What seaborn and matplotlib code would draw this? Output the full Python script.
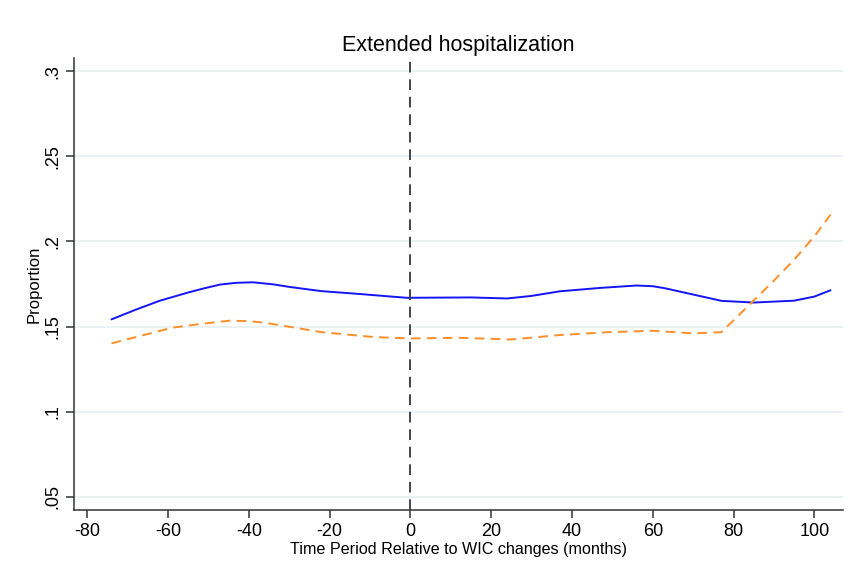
import matplotlib
matplotlib.use("Agg")
import matplotlib.pyplot as plt
import seaborn as sns
import pandas as pd

# Smoothed proportions by month relative to the WIC change
months_a = [-74, -68, -62, -55, -51, -47, -43, -39, -34, -30, -22, -13, -1, 8, 15, 24, 30, 37,
            47, 56, 60, 63, 70, 77, 85, 95, 100, 104]
prop_a = [0.1542, 0.1599, 0.1652, 0.1700, 0.1725, 0.1747, 0.1757, 0.1760, 0.1748, 0.1733,
          0.1708, 0.1692, 0.1669, 0.1670, 0.1671, 0.1665, 0.1680, 0.1707, 0.1727, 0.1741,
          0.1737, 0.1725, 0.1688, 0.1651, 0.1641, 0.1652, 0.1676, 0.1713]

months_b = [-74, -66, -59, -52, -45, -40, -36, -29, -22, -9, 0, 12, 25, 37, 49, 60, 70, 77,
            84, 90, 95, 100, 104]
prop_b = [0.1401, 0.1450, 0.1493, 0.1515, 0.1534, 0.1532, 0.1522, 0.1495, 0.1467, 0.1438,
          0.1430, 0.1434, 0.1424, 0.1450, 0.1467, 0.1475, 0.1460, 0.1467, 0.1630, 0.1770,
          0.1893, 0.2030, 0.2157]

y_ticks = [0.05, 0.10, 0.15, 0.20, 0.25, 0.30]
y_tick_labels = [".05", ".1", ".15", ".2", ".25", ".3"]
x_ticks = [-80, -60, -40, -20, 0, 20, 40, 60, 80, 100]

df_a = pd.DataFrame({"month": months_a, "prop": prop_a})
df_b = pd.DataFrame({"month": months_b, "prop": prop_b})

sns.set_style("white")
plt.rcParams["font.family"] = ["Liberation Sans", "DejaVu Sans"]
plt.rcParams["text.color"] = "black"
plt.rcParams["axes.labelcolor"] = "black"
plt.rcParams["xtick.color"] = "black"
plt.rcParams["ytick.color"] = "black"

fig = plt.figure(figsize=(8.57, 5.82), dpi=100)
ax = fig.add_axes([0.0867, 0.1237, 0.8970, 0.7761])

for yv in y_ticks:
    ax.axhline(yv, color="#e6eff1", lw=1.1, zorder=0)

sns.lineplot(data=df_a, x="month", y="prop", ax=ax, color="#1414f8", lw=1.4, zorder=3)
sns.lineplot(data=df_b, x="month", y="prop", ax=ax, color="#ff8f2a", lw=1.4,
             dashes=False, zorder=3).lines[-1].set_dashes([5, 3.2])

ax.axvline(0, color="#444444", lw=1.4, dashes=(5.5, 3.5), zorder=4)

ax.set_xlim(-83.2, 107.1)
ax.set_ylim(0.0422, 0.3076)
ax.set_xticks(x_ticks)
ax.set_xticklabels([str(v) for v in x_ticks], fontsize=13)
ax.set_yticks(y_ticks)
ax.set_yticklabels(y_tick_labels, fontsize=13, rotation=90, va="center")

ax.tick_params(axis="both", direction="out", length=6, width=1.1, color="#333333",
               left=True, bottom=True, pad=3)
for side in ["top", "right"]:
    ax.spines[side].set_visible(False)
for side in ["left", "bottom"]:
    ax.spines[side].set_color("#333333")
    ax.spines[side].set_linewidth(1.1)

ax.set_xlabel("Time Period Relative to WIC changes (months)", fontsize=11.6, labelpad=2)
ax.set_ylabel("Proportion", fontsize=12, labelpad=2)
ax.set_title("Extended hospitalization", fontsize=15.5, pad=5)

fig.savefig("out.png", dpi=100, facecolor="white")
